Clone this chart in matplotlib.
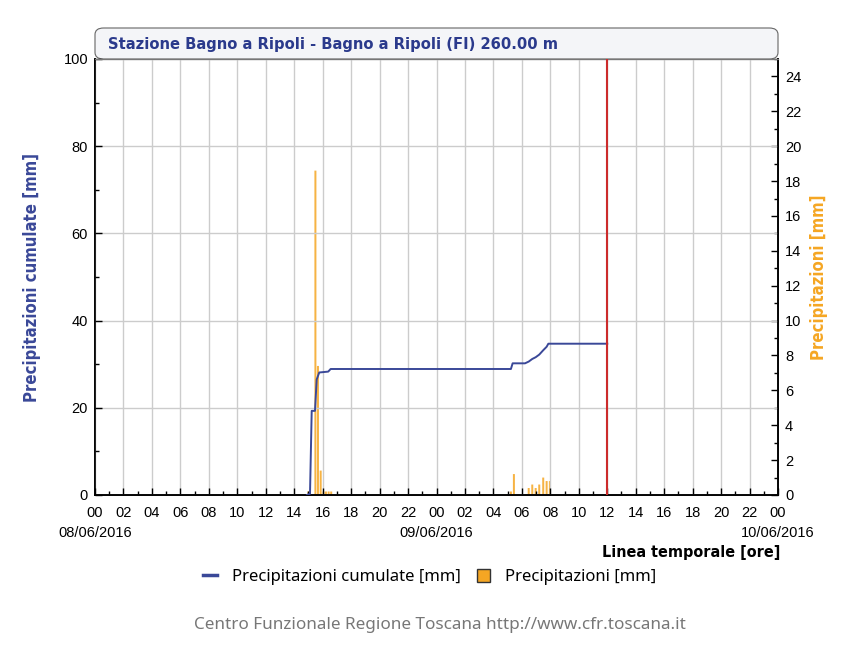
import matplotlib
matplotlib.use('Agg')
from matplotlib import pyplot as plt
from matplotlib.lines import Line2D
from matplotlib.patches import Patch, FancyBboxPatch
from matplotlib.ticker import MultipleLocator

# dati (ore dalle 00 del 08/06/2016)
rain_hours = [15.0, 15.49, 15.67, 15.86, 16.06, 16.23, 16.42, 16.6,
              29.23, 29.44, 30.48, 30.73, 30.97, 31.22, 31.5, 31.74, 31.97]
rain_mm = [0.2, 18.6, 7.4, 1.4, 0.2, 0.2, 0.2, 0.2,
           0.2, 1.2, 0.4, 0.6, 0.4, 0.6, 1.0, 0.8, 0.8]

cum_hours = [14.9, 15.11, 15.23, 15.46, 15.58, 15.76, 16.39, 16.56,
             29.23, 29.35, 30.22, 30.48, 30.73, 30.97, 31.22, 31.5, 31.74, 31.86, 36.0]
cum_mm = [0, 0.3, 19.3, 19.3, 26.5, 28.1, 28.3, 28.9,
          28.9, 30.2, 30.2, 30.6, 31.2, 31.6, 32.2, 33.2, 34.0, 34.7, 34.7]

now_hour = 36.0

hour_ticks = list(range(0, 49, 2))
hour_labels = ['%02d' % (h % 24) for h in hour_ticks]
date_hours = [0, 24, 48]
date_labels = ['08/06/2016', '09/06/2016', '10/06/2016']

title = 'Stazione Bagno a Ripoli - Bagno a Ripoli (FI) 260.00 m'

BLUE = '#3a4898'
ORANGE = '#f5a623'
tick_font = ['Liberation Sans', 'DejaVu Sans']

W, H = 860, 652
fig = plt.figure(figsize=(W / 100, H / 100), dpi=100)
ax = fig.add_axes([95 / W, 1 - 495 / H, 683 / W, 436 / H])
ax2 = ax.twinx()

# barre precipitazioni (asse destro)
ax2.bar(rain_hours, rain_mm, width=0.14, color=ORANGE, alpha=0.85,
        linewidth=0, snap=False, zorder=2)
ax2.set_ylim(0, 25)

# linea cumulata (asse sinistro)
ax.set_zorder(ax2.get_zorder() + 1)
ax.patch.set_visible(False)
ax.plot(cum_hours, cum_mm, color=BLUE, linewidth=1.4, zorder=3)
ax.axvline(now_hour, color='#cc2b2b', linewidth=1.5, zorder=4)
ax.set_xlim(0, 48)
ax.set_ylim(0, 100)

ax.xaxis.set_minor_locator(MultipleLocator(1))
ax.yaxis.set_minor_locator(MultipleLocator(10))
ax2.yaxis.set_minor_locator(MultipleLocator(1))

ax.set_xticks(hour_ticks)
ax.set_xticklabels(hour_labels, family=tick_font, fontsize=10.5)
ax.set_yticks([0, 20, 40, 60, 80, 100])
ax.set_yticklabels(['0', '20', '40', '60', '80', '100'], family=tick_font, fontsize=10.5)
ax2.set_yticks(list(range(0, 25, 2)))
ax2.set_yticklabels([str(v) for v in range(0, 25, 2)], family=tick_font, fontsize=10.5)

for h, d in zip(date_hours, date_labels):
    ax.text(h, -0.088, d, transform=ax.get_xaxis_transform(), ha='center',
            va='center', family=tick_font, fontsize=10.5)

ax.tick_params(axis='both', which='major', direction='in', length=5, width=1, pad=5)
ax.tick_params(axis='x', which='major', pad=8)
ax.tick_params(axis='both', which='minor', direction='in', length=3, width=1)
ax2.tick_params(axis='y', which='major', direction='in', length=5, width=1, pad=5)
ax2.tick_params(axis='y', which='minor', direction='in', length=3, width=1)

ax.grid(True, which='major', color='#cccccc', linewidth=1)
ax.set_axisbelow(True)

for a in (ax, ax2):
    for s in ('left', 'right', 'bottom'):
        a.spines[s].set_color('black')
        a.spines[s].set_linewidth(1.2)
    a.spines['top'].set_color('#777777')
    a.spines['top'].set_linewidth(0.8)

ax.set_ylabel('Precipitazioni cumulate [mm]', color=BLUE, fontsize=12,
              fontweight='bold', family='DejaVu Sans', fontstretch='condensed', labelpad=16)
ax2.set_ylabel('Precipitazioni [mm]', color=ORANGE, fontsize=12,
               fontweight='bold', family='DejaVu Sans', fontstretch='condensed', labelpad=6)

fig.text(780 / W, 1 - 552 / H, 'Linea temporale [ore]', ha='right', va='center',
         fontsize=11.5, fontweight='bold', family='DejaVu Sans', fontstretch='condensed')

# riquadro del titolo
box = FancyBboxPatch((95 / W, 1 - 59 / H), 683 / W, 31 / H,
                     boxstyle='round,pad=0,rounding_size=0.01',
                     transform=fig.transFigure, facecolor='#f4f5f8',
                     edgecolor='#666666', linewidth=0.8, zorder=-1)
fig.patches.append(box)
fig.text(108 / W, 1 - 44 / H, title, ha='left', va='center', color='#2b3a8c',
         fontsize=11.8, fontweight='bold', family='DejaVu Sans', fontstretch='condensed')

handles = [Line2D([0], [0], color=BLUE, linewidth=2.5),
           Patch(facecolor=ORANGE, edgecolor='#333333', linewidth=1)]
fig.legend(handles, ['Precipitazioni cumulate [mm]', 'Precipitazioni [mm]'],
           loc='center', bbox_to_anchor=(430 / W, 1 - 577 / H), ncol=2,
           frameon=False, prop={'family': 'Noto Sans', 'size': 12},
           handlelength=0.8, handleheight=0.8, columnspacing=1.0, handletextpad=0.9)

fig.text(440 / W, 1 - 625 / H, 'Centro Funzionale Regione Toscana http://www.cfr.toscana.it',
         ha='center', va='center', color='#777777', fontsize=12.3, family='Noto Sans')

fig.savefig('out.png', dpi=100)
